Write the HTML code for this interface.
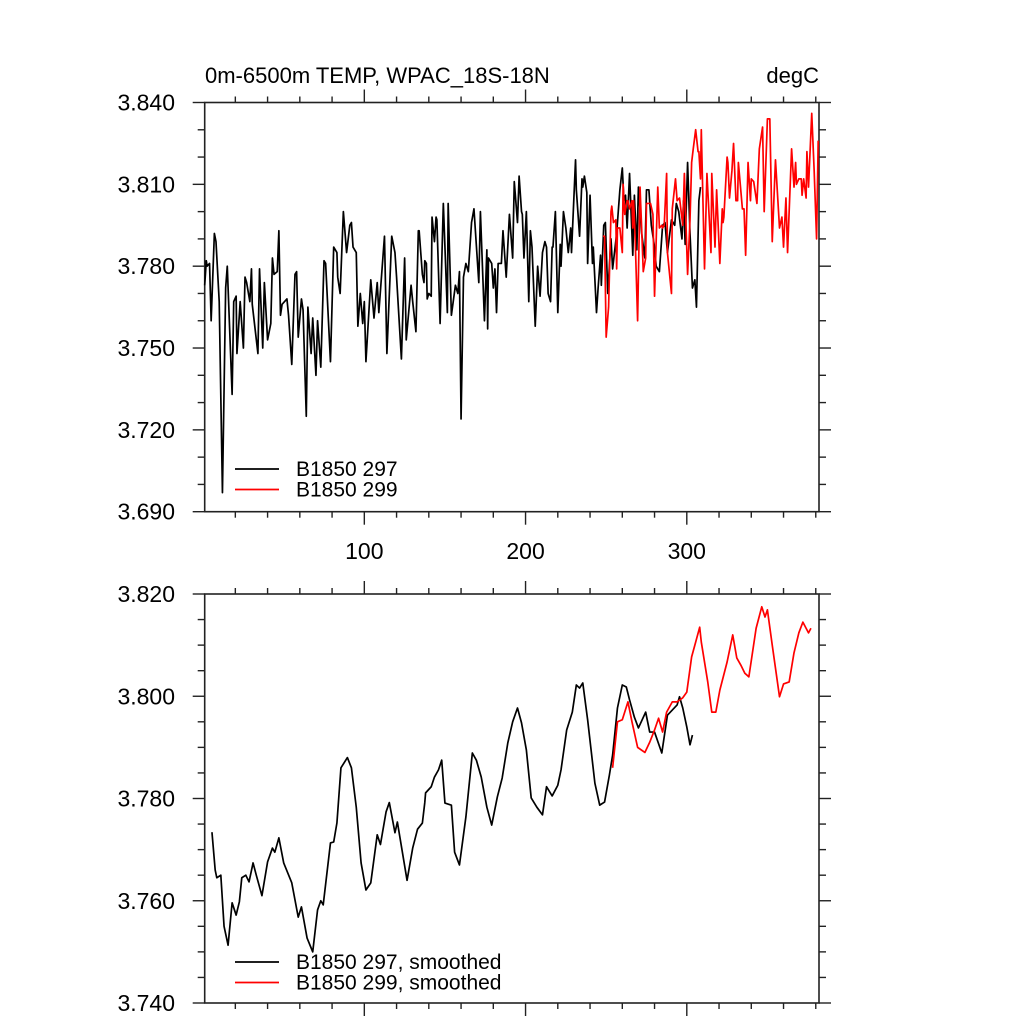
<!DOCTYPE html>
<html><head><meta charset="utf-8"><style>
html,body{margin:0;padding:0;background:#fff;}
svg{display:block;font-family:"Liberation Sans",sans-serif;}
</style></head><body>
<svg id="chart" width="1024" height="1024" viewBox="0 0 1024 1024" xmlns="http://www.w3.org/2000/svg">
<text x="205" y="83" font-size="22" fill="#000">0m-6500m TEMP, WPAC_18S-18N</text>
<text x="819" y="83" font-size="22" text-anchor="end" fill="#000">degC</text>
</svg>
<script>
// ---- data (years, values) ----
const topBlackYears=[1,2,2.5,4,5,7,8,10,12,14,15,18,19,20.5,21,23,25,26,27,29,30,30.5,34,35,37,38,40,42,43,44,46,47,48,49,52,53,55,57,58,59,61,62,64,65,67,68,70,71,73,75,76,79,81,83,83.5,85,87,89,91,92,93,95,96,97.5,99,100,101,104,106,108,109,112,112.5,114,117,119,120,123,125,126,129,130,132,133.5,134,136,137,137.5,138.5,139,140,141.5,142,143.5,144.5,145,147,149,151.5,152,154,156.5,158,159,160,161.5,163,164.5,166.5,168,171,172,174.5,176,176.5,177,179,180,181,182,183,185,186,188,190,192,193,195,196,197.5,198,199,200.5,202,203,204,206,207.5,209,210.5,212,213,214,215.5,216.5,217,218.5,220,221.5,222,223.5,225,226.5,228,228.5,231,231.5,233.5,235,235.5,236.5,238,238.5,240,241.5,242,244,245,246.5,247,248.5,249.5,251,253,254,256.5,258.5,260,261,262,263,264.5,266.5,267.5,269,270,272,274,275,276.5,278,280,281,283,285,286.5,288,290.5,292.5,293.5,295,297,298,299,300.5,302,303.5,305,306,307.5,308.5];
const topBlackVals=[3.773,3.782,3.780,3.781,3.760,3.792,3.789,3.767,3.697,3.772,3.780,3.733,3.767,3.769,3.748,3.767,3.750,3.776,3.774,3.767,3.779,3.766,3.748,3.779,3.750,3.774,3.753,3.759,3.783,3.777,3.778,3.793,3.762,3.766,3.768,3.762,3.744,3.777,3.778,3.754,3.768,3.764,3.725,3.765,3.748,3.761,3.740,3.760,3.743,3.782,3.781,3.745,3.787,3.785,3.776,3.770,3.800,3.785,3.795,3.796,3.787,3.785,3.758,3.770,3.759,3.767,3.745,3.775,3.761,3.774,3.763,3.787,3.791,3.748,3.791,3.785,3.776,3.746,3.783,3.753,3.773,3.767,3.756,3.793,3.793,3.777,3.774,3.782,3.781,3.768,3.770,3.769,3.798,3.789,3.798,3.797,3.759,3.803,3.763,3.803,3.762,3.773,3.770,3.778,3.724,3.776,3.781,3.778,3.796,3.801,3.774,3.800,3.760,3.786,3.757,3.783,3.781,3.772,3.779,3.763,3.781,3.781,3.793,3.776,3.799,3.783,3.811,3.796,3.813,3.800,3.799,3.783,3.800,3.767,3.793,3.787,3.758,3.780,3.769,3.785,3.789,3.787,3.770,3.767,3.787,3.787,3.800,3.763,3.788,3.780,3.800,3.794,3.785,3.794,3.785,3.819,3.808,3.791,3.812,3.809,3.813,3.807,3.781,3.806,3.781,3.787,3.763,3.772,3.784,3.773,3.795,3.796,3.770,3.790,3.779,3.792,3.808,3.816,3.804,3.806,3.794,3.814,3.784,3.806,3.786,3.809,3.792,3.783,3.808,3.808,3.795,3.787,3.780,3.778,3.795,3.796,3.785,3.797,3.795,3.803,3.800,3.790,3.804,3.788,3.818,3.792,3.772,3.775,3.765,3.804,3.809];
const topRedYears=[248,249,250,251.5,253,253.5,254.5,256,256.5,257,258.5,260,260.5,261.5,263,263.5,264.5,266,266.5,267,268,269.5,271,272,273,274.5,275,277.5,279,280,282,283,284.5,285,286,287.5,288,290.5,291,293,294,295.5,297.5,298.5,300.5,302,303,304,305.5,307,307.5,308.5,309,311,312.5,315,315.5,317.5,318.5,320.5,322,322.5,323,325,325.5,326.5,328,329,330.5,331.5,332,334.5,335.5,336.5,338,339.5,340,341.5,343.5,345,347,348,350,351.5,353,355,356.5,357.5,359,360,361.5,362.5,365,366.5,367.5,368,369.5,371,371.5,372.5,374,374.5,375.5,377.5,379,380.5,381.5];
const topRedVals=[3.791,3.791,3.754,3.765,3.800,3.802,3.796,3.797,3.779,3.794,3.794,3.785,3.810,3.799,3.804,3.804,3.801,3.804,3.794,3.804,3.790,3.760,3.809,3.794,3.778,3.783,3.803,3.803,3.799,3.769,3.809,3.794,3.795,3.794,3.795,3.814,3.785,3.770,3.801,3.812,3.804,3.805,3.795,3.814,3.777,3.797,3.818,3.823,3.830,3.822,3.822,3.812,3.830,3.779,3.814,3.785,3.814,3.787,3.808,3.781,3.801,3.796,3.798,3.820,3.818,3.805,3.815,3.825,3.804,3.804,3.818,3.801,3.801,3.784,3.818,3.804,3.812,3.811,3.803,3.823,3.831,3.800,3.834,3.834,3.789,3.819,3.804,3.794,3.798,3.787,3.805,3.785,3.823,3.809,3.818,3.810,3.812,3.812,3.806,3.812,3.805,3.822,3.809,3.836,3.815,3.790,3.826];
const botBlackYears=[5.5,7.5,8.5,11,13,15.5,18,20.5,22.5,24,26.5,28.5,31,33,36.5,40,43,44.5,47,50,55,59,61,64.5,68,71,73,74.5,79,81,83,85.5,89.5,92,95,98,101,104,108,110,113.5,115.5,119,120.5,126.5,130,133,136,137.5,138,141.5,143.5,146,148,150,154,156,159,163,167,169.5,172.5,176,179,182.5,185.5,189,192,195,197.5,200.5,203.5,207,210.5,213,216.5,220,222,225.5,229,231.5,233.5,235.5,238.5,243,246,249,252,254,257,260,262.5,264.5,267.5,270,274.5,277,280,284.5,288,294,295.5,297.5,300,302,303.5];
const botBlackVals=[3.7734,3.766,3.7645,3.765,3.755,3.7513,3.7596,3.7572,3.7598,3.7645,3.765,3.7637,3.7674,3.765,3.761,3.7676,3.7703,3.7695,3.7723,3.7674,3.7635,3.7568,3.7588,3.7527,3.750,3.7582,3.760,3.7592,3.7713,3.7715,3.7752,3.786,3.788,3.786,3.7783,3.7674,3.7621,3.7635,3.7729,3.771,3.7774,3.7792,3.7733,3.7754,3.764,3.7703,3.774,3.7752,3.7792,3.7811,3.7823,3.7842,3.7856,3.7875,3.7791,3.7787,3.7695,3.767,3.7764,3.7889,3.7875,3.7842,3.7783,3.7748,3.7803,3.784,3.7909,3.795,3.7977,3.7948,3.7895,3.7801,3.7783,3.7768,3.7823,3.7805,3.7826,3.7856,3.7934,3.7969,3.8022,3.8016,3.8026,3.7954,3.783,3.7787,3.7793,3.7846,3.7885,3.7977,3.8022,3.8018,3.7993,3.7959,3.7938,3.7969,3.793,3.793,3.7889,3.7963,3.7983,3.7999,3.7977,3.794,3.7905,3.7924];
const botRedYears=[254,257,260,263.5,266,269.5,274,277,280,282.5,285,287.5,291,294,297.5,300,303,305,308,309,313,315.5,318,320.5,325,328.5,331,333.5,336,338.5,343,346.5,348.5,350,353,357.5,360,363.5,366.5,369.5,372,375.5,377];
const botRedVals=[3.786,3.795,3.7954,3.7989,3.795,3.790,3.789,3.791,3.7934,3.7957,3.793,3.7969,3.7989,3.7989,3.7997,3.8008,3.8077,3.810,3.8135,3.8106,3.8028,3.7969,3.7969,3.8012,3.8067,3.812,3.8075,3.8061,3.8045,3.8038,3.8133,3.8175,3.8155,3.8169,3.810,3.7999,3.8024,3.8028,3.8085,3.8124,3.8145,3.8124,3.8133];
const xTickLabels=[100,200,300];
const topYTicks=["3.690","3.720","3.750","3.780","3.810","3.840"];
const botYTicks=["3.740","3.760","3.780","3.800","3.820"];
const legendTop=["B1850 297","B1850 299"];
const legendBot=["B1850 297, smoothed","B1850 299, smoothed"];

const NS="http://www.w3.org/2000/svg";
const svg=document.getElementById('chart');
const L=204.7,R=819,X0=1,X1=382;
function xs(v){return L+(v-X0)/(X1-X0)*(R-L);}
function mk(tag,attrs,parent){const e=document.createElementNS(NS,tag);for(const k in attrs)e.setAttribute(k,attrs[k]);(parent||svg).appendChild(e);return e;}

function panel(name,top,bot,ymin,ymax,yTicks,minorStep,showXLabels,series,legend,legY){
  const g=mk('g',{});
  
  
  const ys=v=>bot-(v-ymin)/(ymax-ymin)*(bot-top);
  const frame=mk('rect',{x:L,y:top,width:R-L,height:bot-top,fill:'none',stroke:'#222','stroke-width':1.6},g);
  
  
  const nMin=Math.round((ymax-ymin)/minorStep);
  for(let i=0;i<=nMin;i++){
    const v=ymin+i*minorStep, y=ys(v);
    const isMaj=yTicks.some(t=>Math.abs(parseFloat(t)-v)<1e-6);
    const len=isMaj?12:7;
    mk('line',{x1:L,x2:L-len,y1:y,y2:y,stroke:'#222','stroke-width':1.4},g);
    mk('line',{x1:R,x2:R+len,y1:y,y2:y,stroke:'#222','stroke-width':1.4},g);
  }
  yTicks.forEach(t=>{
    const tx=mk('text',{x:175,y:ys(parseFloat(t))+8,'font-size':23,'text-anchor':'end',fill:'#000'},g);
    tx.textContent=t;
    
    
  });
  for(let v=20;v<=X1;v+=20){
    const x=xs(v), isMaj=(v%100===0), len=isMaj?13:6;
    mk('line',{x1:x,x2:x,y1:top,y2:top-len,stroke:'#222','stroke-width':1.4},g);
    mk('line',{x1:x,x2:x,y1:bot,y2:bot+len,stroke:'#222','stroke-width':1.4},g);
  }
  if(showXLabels){
    xTickLabels.forEach(v=>{
      const tx=mk('text',{x:xs(v),y:559,'font-size':23,'text-anchor':'middle',fill:'#000'},g);
      tx.textContent=v;
      
      
    });
  }
  series.forEach(s=>{
    const d=s.years.map((yr,i)=>(i?'L':'M')+xs(yr).toFixed(2)+','+ys(s.vals[i]).toFixed(2)).join('');
    const p=mk('path',{d:d,fill:'none',stroke:s.color,'stroke-width':1.7,'stroke-linejoin':'round'},g);
    
    
  });
  legend.forEach((lab,i)=>{
    const y=legY+i*20.5;
    const ln=mk('line',{x1:235,x2:279,y1:y,y2:y,stroke:series[i].color,'stroke-width':1.7},g);
    
    
    const tx=mk('text',{x:296,y:y+7,'font-size':21,fill:'#000'},g);
    tx.textContent=lab;
    
    
  });
}
panel('top-panel',102.5,511.7,3.690,3.840,topYTicks,0.01,true,
  [{years:topBlackYears,vals:topBlackVals,color:'#000',name:'series-b1850-297'},
   {years:topRedYears,vals:topRedVals,color:'#f00',name:'series-b1850-299'}],legendTop,469);
panel('bottom-panel',594,1003,3.740,3.820,botYTicks,0.005,false,
  [{years:botBlackYears,vals:botBlackVals,color:'#000',name:'series-b1850-297-smoothed'},
   {years:botRedYears,vals:botRedVals,color:'#f00',name:'series-b1850-299-smoothed'}],legendBot,962);
</script>
</body></html>
